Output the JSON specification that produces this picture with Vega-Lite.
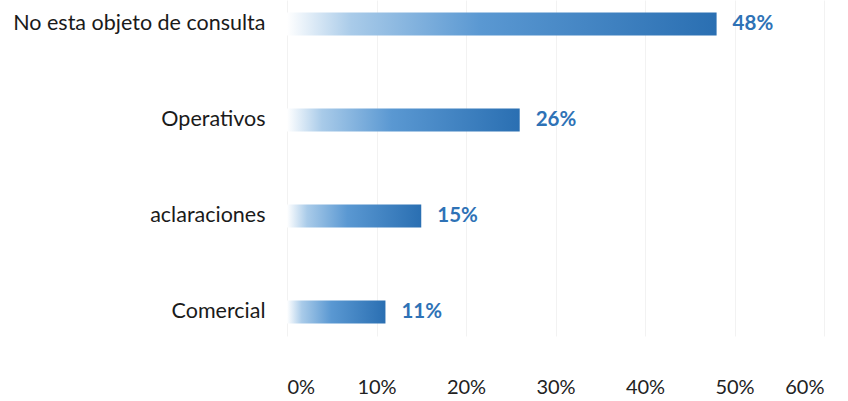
{
  "$schema": "https://vega.github.io/schema/vega-lite/v6.json",
  "width": 537,
  "height": 336,
  "autosize": {"type": "none"},
  "padding": {"left": 287, "top": 0, "right": 24, "bottom": 65},
  "background": "white",
  "config": {"view": {"stroke": null}, "font": "Lato"},
  "data": {"values": [
    {"categoria": "No esta objeto de consulta", "valor": 0.48},
    {"categoria": "Operativos", "valor": 0.26},
    {"categoria": "aclaraciones", "valor": 0.15},
    {"categoria": "Comercial", "valor": 0.11}
  ]},
  "encoding": {
    "y": {"field": "categoria", "type": "nominal", "sort": null,
      "scale": {"paddingInner": 0.76, "paddingOuter": 0.13},
      "axis": {"title": null, "domain": false, "ticks": false, "labelPadding": 22, "labelFontSize": 21.5, "labelColor": "#1a1a1a", "labelFont": "Lato", "labelLimit": 400}},
    "x": {"field": "valor", "type": "quantitative",
      "scale": {"domain": [0, 0.6], "nice": false},
      "axis": {"title": null, "format": ".0%", "values": [0, 0.1, 0.2, 0.3, 0.4, 0.5, 0.6], "domain": false, "ticks": false, "labelPadding": 41, "labelFontSize": 20, "labelColor": "#222222", "labelFont": "Lato", "grid": true, "gridColor": "#f2f2f2", "gridWidth": 1}}
  },
  "layer": [
    {"mark": {"type": "bar", "color": {"gradient": "linear", "x1": 0, "x2": 1, "y1": 0, "y2": 0, "stops": [
      {"offset": 0, "color": "#ffffff"},
      {"offset": 0.15, "color": "#a9cbe9"},
      {"offset": 0.45, "color": "#5a98d2"},
      {"offset": 1, "color": "#2a6fb2"}]}}},
    {"mark": {"type": "text", "align": "left", "baseline": "middle", "dx": 16, "fontSize": 20.5, "fontWeight": "bold", "color": "#2e72b6", "font": "Lato"},
      "encoding": {"text": {"field": "valor", "type": "quantitative", "format": ".0%"}}}
  ]
}
